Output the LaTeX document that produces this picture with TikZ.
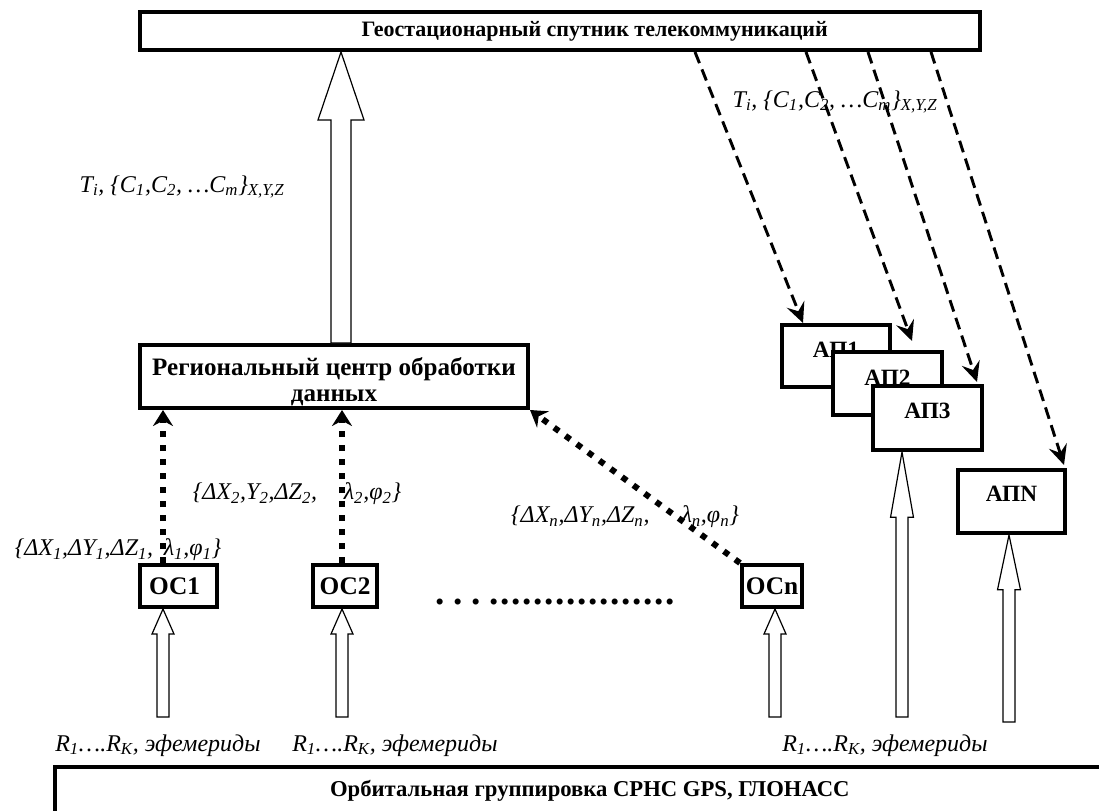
\documentclass[tikz,border=0pt]{standalone}
\usepackage{fontspec}
\setmainfont{Liberation Serif}
\usetikzlibrary{arrows.meta,calc}
\newcommand\lbl[1]{\textsubscript{#1}}
\newcommand\dA{.\hspace{6.5pt}}
\newcommand\dB{.\hspace{1.25pt}}
\newcommand\harrow[5]{\draw[hollow] let \p1=(#1), \p2=(#2) in
  (\x1-#3,\y1) -- (\x1-#3,\y2-#5) -- (\x1-#4,\y2-#5) -- (\x2,\y2) --
  (\x1+#4,\y2-#5) -- (\x1+#3,\y2-#5) -- (\x1+#3,\y1) -- cycle;}
\tikzset{
  box/.style={draw, line width=3pt, fill=white, inner sep=0pt,
    font=\bfseries\fontsize{19}{21}\selectfont},
  topbox/.style={box, font=\bfseries\fontsize{16.5}{18}\selectfont},
  aplabel/.style={inner sep=0pt, font=\bfseries\fontsize{17.5}{19}\selectfont},
  reglabel/.style={inner sep=0pt, align=center, font=\bfseries\fontsize{18.8}{19}\selectfont},
  hollow/.style={draw, line width=0.9pt, fill=white},
  dasharrow/.style={line width=2.2pt, dash pattern=on 9pt off 5pt,
    -{Stealth[length=15pt,width=14pt,inset=5.5pt]}},
  dotarrow/.style={line width=4.5pt, dash pattern=on 4.5pt off 6pt,
    -{Stealth[length=12pt,width=15pt,inset=4pt]}},
  ital/.style={font=\itshape\fontsize{18}{20}\selectfont, inner sep=0pt},
}
\begin{document}
\begin{tikzpicture}[x=0.75pt,y=-0.75pt]
\useasboundingbox (0,0) rectangle (1099,810);

\node[topbox, minimum width=630pt, minimum height=28.5pt] (sat) at (560,31)
  {\hspace*{52pt}Геостационарный спутник телекоммуникаций};
\node[box, minimum width=291pt, minimum height=47.25pt,
  label={[reglabel,yshift=-4pt]center:Региональный центр обработки\\данных}] (reg) at (334,376.5) {};

\harrow{reg.north -| 341,0}{sat.south -| 341,0}{7.5pt}{17.25pt}{51pt}

\node[box, minimum width=57.75pt, minimum height=31.5pt] (oc1) at (178.5,586) {\hspace*{-6pt}ОС1};
\node[box, minimum width=48pt, minimum height=31.5pt] (oc2) at (345,586) {ОС2};
\node[box, minimum width=45pt, minimum height=31.5pt] (ocn) at (772,586) {ОСn};

\harrow{163,717}{oc1.south -| 163,0}{4.5pt}{8.25pt}{18.75pt}
\harrow{342,717}{oc2.south -| 342,0}{4.5pt}{8.25pt}{18.75pt}
\harrow{775,717}{ocn.south -| 775,0}{4.5pt}{8.25pt}{18.75pt}

\node[box, minimum width=81pt, minimum height=46.5pt,
  label={[aplabel,yshift=5pt]center:АП1}] (ap1) at (836,356) {};
\node[box, minimum width=81.75pt, minimum height=47.25pt,
  label={[aplabel,yshift=4pt]center:АП2}] (ap2) at (887.5,383.5) {};
\node[box, minimum width=81.75pt, minimum height=48pt,
  label={[aplabel,yshift=5pt]center:АП3}] (ap3) at (927.5,418) {};
\node[box, minimum width=80.25pt, minimum height=47.25pt,
  label={[aplabel,yshift=6pt]center:АПN}] (apn) at (1011.5,501.5) {};

\harrow{902,717}{ap3.south -| 902,0}{4.5pt}{8.6pt}{49pt}
\harrow{1009,722}{apn.south -| 1009,0}{4.5pt}{8.6pt}{41pt}

\node[topbox, minimum width=791.25pt, minimum height=36pt, font=\bfseries\fontsize{17}{19}\selectfont] (orb) at (582.5,791)
  {\hspace*{11pt}Орбитальная группировка СРНС GPS, ГЛОНАСС};

% dashed arrows
\draw[dasharrow] (sat.south -| 695,0) -- (ap1.north -| 803,0);
\draw[dasharrow] (sat.south -| 806,0) -- ($(ap2.north east)+(-32,-9)$);
\draw[dasharrow] (sat.south -| 868,0) -- ($(ap3.north east)+(-7,-2)$);
\draw[dasharrow] (sat.south -| 931,0) -- ($(apn.north east)+(-3,-3)$);

% dotted arrows
\draw[dotarrow] (oc1.north -| 163,0) -- (reg.south -| 163,0);
\draw[dotarrow] (oc2.north -| 342,0) -- (reg.south -| 342,0);
\draw[dotarrow] (ocn.north west) -- (reg.south east);

% labels
\node[ital] (tl) at (182,187) {T\lbl{i}, \{C\lbl{1},C\lbl{2}, …C\lbl{m}\}\lbl{X,Y,Z}};
\node[ital] (tr) at (835,102) {T\lbl{i}, \{C\lbl{1},C\lbl{2}, …C\lbl{m}\}\lbl{X,Y,Z}};
\node[ital] (l1) at (118,550) {\{ΔX\lbl{1},ΔY\lbl{1},ΔZ\lbl{1},\hspace{8pt}λ\lbl{1},φ\lbl{1}\}};
\node[ital] (l2) at (297,494) {\{ΔX\lbl{2},Y\lbl{2},ΔZ\lbl{2},\hspace{20pt}λ\lbl{2},φ\lbl{2}\}};
\node[ital] (ln) at (625,517) {\{ΔX\lbl{n},ΔY\lbl{n},ΔZ\lbl{n},\hspace{24pt}λ\lbl{n},φ\lbl{n}\}};
\node[inner sep=0pt, anchor=base west, font=\bfseries\fontsize{28}{30}\selectfont] (dots) at (435,604)
  {\dA\dA\dA\dB\dB\dB\dB\dB\dB\dB\dB\dB\dB\dB\dB\dB\dB\dB\dB.};
\node[ital, anchor=base west] (r1) at (55,751) {R\lbl{1}….R\lbl{K}, эфемериды};
\node[ital, anchor=base west] (r2) at (292,751) {R\lbl{1}….R\lbl{K}, эфемериды};
\node[ital, anchor=base west] (r3) at (782,751) {R\lbl{1}….R\lbl{K}, эфемериды};
\end{tikzpicture}
\end{document}
